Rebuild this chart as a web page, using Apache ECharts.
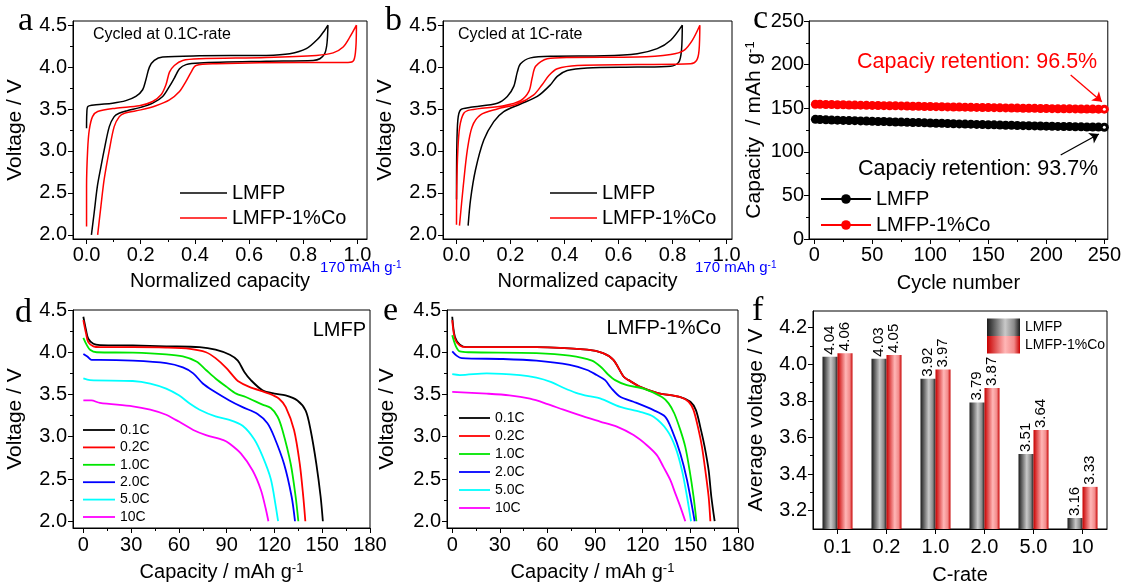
<!DOCTYPE html>
<html>
<head>
<meta charset="utf-8">
<title>LMFP / LMFP-1%Co</title>
<script src="https://cdn.jsdelivr.net/npm/echarts@6.0.0/dist/echarts.min.js"></script>
<style>
  html, body { margin: 0; padding: 0; background: #fff; }
  #main { width: 1124px; height: 587px; }
</style>
</head>
<body>
<div id="main"></div>
<script>
// ---------------- data ----------------
// a: 0.1C charge/discharge, normalized capacity vs voltage
var aLmfp = [[0,3.27],[0.001,3.45],[0.005,3.53],[0.035,3.55],[0.096,3.57],[0.145,3.6],[0.182,3.65],[0.207,3.73],[0.219,3.85],[0.232,4.0],[0.25,4.08],[0.281,4.12],[0.417,4.135],[0.663,4.14],[0.75,4.16],[0.811,4.22],[0.855,4.34],[0.879,4.44],[0.891,4.5],
  [0.889,4.35],[0.886,4.25],[0.879,4.16],[0.861,4.1],[0.836,4.08],[0.663,4.07],[0.417,4.05],[0.367,4.03],[0.343,3.98],[0.324,3.87],[0.306,3.77],[0.281,3.65],[0.244,3.57],[0.2,3.52],[0.15,3.48],[0.12,3.45],[0.102,3.41],[0.084,3.29],[0.065,3.01],[0.053,2.81],[0.04,2.58],[0.028,2.26],[0.018,2.0]];
var aCo = [[0,2.1],[0,2.58],[0.004,3.01],[0.01,3.25],[0.022,3.41],[0.041,3.47],[0.108,3.51],[0.195,3.54],[0.244,3.59],[0.275,3.67],[0.293,3.79],[0.306,3.94],[0.324,4.02],[0.355,4.08],[0.417,4.1],[0.663,4.115],[0.848,4.14],[0.91,4.17],[0.947,4.24],[0.972,4.36],[0.996,4.5],
  [0.994,4.24],[0.986,4.08],[0.965,4.055],[0.787,4.055],[0.478,4.04],[0.404,4.02],[0.386,3.94],[0.367,3.83],[0.343,3.71],[0.306,3.61],[0.256,3.54],[0.2,3.49],[0.14,3.45],[0.121,3.41],[0.102,3.29],[0.084,3.01],[0.065,2.66],[0.053,2.34],[0.041,2.0]];
// b: 1C
var bLmfp = [[0,2.42],[0.001,3.01],[0.005,3.37],[0.015,3.49],[0.052,3.52],[0.151,3.57],[0.188,3.65],[0.212,3.77],[0.225,3.94],[0.237,4.04],[0.274,4.11],[0.36,4.13],[0.546,4.135],[0.669,4.16],[0.743,4.22],[0.793,4.32],[0.836,4.5],
  [0.833,4.2],[0.823,4.06],[0.793,4.01],[0.669,4.0],[0.484,3.99],[0.41,3.96],[0.373,3.89],[0.348,3.79],[0.299,3.65],[0.237,3.56],[0.175,3.47],[0.138,3.35],[0.101,3.13],[0.07,2.77],[0.052,2.42],[0.043,2.11]];
var bCo = [[0,2.12],[0.001,2.58],[0.005,3.01],[0.012,3.29],[0.027,3.45],[0.052,3.49],[0.175,3.54],[0.237,3.6],[0.268,3.71],[0.28,3.87],[0.293,4.01],[0.336,4.1],[0.422,4.115],[0.669,4.12],[0.793,4.15],[0.842,4.2],[0.873,4.32],[0.901,4.5],
  [0.898,4.2],[0.889,4.08],[0.867,4.04],[0.669,4.03],[0.447,4.02],[0.373,3.98],[0.342,3.9],[0.317,3.79],[0.286,3.67],[0.225,3.56],[0.151,3.5],[0.089,3.43],[0.058,3.29],[0.04,3.01],[0.025,2.58],[0.011,2.11]];

// c: cycling at 1C (every 5th cycle)
var cycles = [1,5,10,15,20,25,30,35,40,45,50,55,60,65,70,75,80,85,90,95,100,105,110,115,120,125,130,135,140,145,150,155,160,165,170,175,180,185,190,195,200,205,210,215,220,225,230,235,240,245,250];
var cLmfp = [137.2,136.9,136.7,136.4,136.3,136.0,135.8,135.7,135.4,135.2,135.0,134.8,134.7,134.4,134.2,134.1,133.8,133.6,133.5,133.2,133.0,132.8,132.7,132.4,132.2,132.0,131.8,131.7,131.4,131.2,131.0,130.9,130.7,130.5,130.4,130.2,130.0,129.9,129.7,129.6,129.4,129.3,129.1,129.0,128.9,128.7,128.6,128.5,128.4,128.3,128.2];
var cCo = [154.5,154.4,154.2,154.1,154.0,153.9,153.7,153.6,153.5,153.3,153.2,153.1,152.9,152.8,152.7,152.6,152.4,152.3,152.2,152.0,151.9,151.8,151.7,151.5,151.4,151.3,151.2,151.0,150.9,150.8,150.7,150.6,150.4,150.3,150.2,150.1,150.0,149.9,149.8,149.7,149.6,149.5,149.4,149.3,149.3,149.2,149.1,149.0,149.0,148.9,148.9];
var arrowCo = [[221, 188], [247.9, 157.5]];
var arrowLmfp = [[212.4, 96.3], [245.3, 120.4]];

// d: LMFP discharge at rates
var rateNames = ['0.1C', '0.2C', '1.0C', '2.0C', '5.0C', '10C'];
var rateColors = ['#000000', '#ff0000', '#00e600', '#0000ff', '#00ffff', '#ff00ff'];
var d01 = [[0,4.42],[1.7,4.26],[3.1,4.16],[6.3,4.1],[10.4,4.085],[31,4.08],[52,4.07],[73,4.06],[83,4.03],[92,3.97],[97,3.9],[101,3.77],[105.2,3.67],[112.5,3.55],[120,3.51],[127,3.49],[134.4,3.43],[139.6,3.31],[142.7,3.08],[146.3,2.68],[149,2.29],[150.4,2.0]];
var d02 = [[0,4.38],[1.7,4.22],[3.1,4.12],[6.3,4.07],[10.4,4.06],[31,4.06],[52,4.055],[67,4.04],[77,4.0],[83,3.93],[90,3.81],[94,3.72],[97,3.66],[104.2,3.59],[116.7,3.51],[122.9,3.45],[127.1,3.35],[132.3,3.08],[135.9,2.68],[138.1,2.29],[139.4,2.0]];
var d10 = [[0,4.17],[2,4.09],[4.2,4.03],[8.3,4.0],[31,3.995],[52,3.975],[62.5,3.95],[71,3.89],[77,3.79],[83,3.69],[90,3.59],[96,3.51],[102,3.47],[112.5,3.38],[117.7,3.34],[121.9,3.24],[125,3.08],[130.2,2.68],[133.3,2.29],[135,2.0]];
var d20 = [[0,3.98],[2.5,3.95],[5.2,3.91],[10.4,3.91],[31,3.9],[52,3.87],[62.5,3.82],[69,3.75],[75,3.63],[81,3.55],[91.7,3.43],[100,3.35],[109.4,3.27],[115.6,3.16],[119.8,3.0],[126,2.68],[130.8,2.29],[132.9,2.0]];
var d50 = [[0,3.69],[4.2,3.67],[31,3.66],[42,3.63],[52,3.57],[60,3.49],[67,3.39],[73,3.32],[83,3.24],[91.7,3.2],[100,3.13],[107.3,2.97],[112.5,2.77],[117.7,2.5],[120.8,2.18],[122.3,2.0]];
var d100 = [[0,3.43],[5,3.43],[10.4,3.4],[31,3.36],[42,3.32],[52,3.26],[58,3.2],[60,3.18],[69,3.08],[77,3.02],[88,2.96],[91.7,2.92],[99,2.8],[106.3,2.6],[111.5,2.37],[114.5,2.15],[116.2,2.0]];
// e: LMFP-1%Co discharge at rates
var e01 = [[0,4.42],[1.7,4.18],[4.8,4.09],[9,4.06],[53,4.06],[85,4.03],[95,3.99],[101.5,3.91],[108,3.71],[111.1,3.67],[118.4,3.59],[129,3.52],[143.7,3.47],[150,3.414],[153.5,3.315],[156.7,3.078],[159,2.88],[161.5,2.604],[163.2,2.29],[165.3,2.0]];
var e02 = [[0,4.38],[1.7,4.16],[4.8,4.08],[9,4.06],[53,4.06],[85,4.03],[95,3.99],[101.5,3.91],[108,3.71],[111.1,3.67],[118.4,3.59],[129,3.52],[143.7,3.47],[148.9,3.414],[152,3.315],[155.2,3.078],[157.3,2.88],[159.4,2.604],[161.5,2.29],[162.6,2.0]];
var e10 = [[0,4.2],[2.3,4.07],[4.8,4.01],[11,4.0],[53,3.99],[74,3.96],[88,3.9],[94,3.82],[98,3.74],[102.6,3.67],[110,3.61],[120.5,3.57],[132.1,3.47],[136.3,3.395],[139.9,3.275],[143.7,3.078],[146.8,2.88],[149.5,2.604],[152,2.29],[153.8,2.0]];
var e20 = [[0,4.01],[2.7,3.96],[5.9,3.93],[32,3.92],[53,3.9],[74,3.85],[85,3.79],[91,3.73],[96.3,3.67],[100,3.58],[105.8,3.473],[114.2,3.414],[126.8,3.315],[134.2,3.236],[138.4,3.078],[143.7,2.8],[147.9,2.486],[152.7,2.0]];
var e50 = [[0,3.74],[4.8,3.73],[21.7,3.75],[42.7,3.73],[53,3.7],[62,3.65],[70,3.58],[78,3.52],[86,3.48],[93.1,3.454],[105.8,3.354],[118.4,3.295],[126.8,3.236],[135.3,3.078],[140.5,2.88],[144.7,2.604],[147.9,2.29],[150.4,2.0]];
var e100 = [[0,3.53],[21.7,3.51],[36,3.49],[49,3.45],[59.5,3.39],[70,3.32],[82.6,3.24],[93.1,3.18],[103.7,3.12],[114.2,3.02],[122.6,2.9],[129,2.78],[133.1,2.64],[137.4,2.486],[140.5,2.33],[143.7,2.17],[146.8,2.0]];

// f: average voltage vs C-rate
var rates = ['0.1', '0.2', '1.0', '2.0', '5.0', '10'];
var fLmfp = [4.04, 4.03, 3.92, 3.79, 3.51, 3.16];
var fCo = [4.06, 4.05, 3.97, 3.87, 3.64, 3.33];

// tick values
var normTicks = [0, 0.2, 0.4, 0.6, 0.8, 1.0];
var normMinor = [0.1, 0.3, 0.5, 0.7, 0.9];
var voltTicks = [2.0, 2.5, 3.0, 3.5, 4.0, 4.5];
var voltMinor = [2.25, 2.75, 3.25, 3.75, 4.25];
var cycTicks = [0, 50, 100, 150, 200, 250];
var cycMinor = [25, 75, 125, 175, 225];
var capTicks = [0, 30, 60, 90, 120, 150, 180];
var capMinor = [15, 45, 75, 105, 135, 165];
var avgTicks = [3.2, 3.4, 3.6, 3.8, 4.0, 4.2];
var avgMinor = [3.3, 3.5, 3.7, 3.9, 4.1];

// ---------------- chart ----------------
var FONT = 'Liberation Sans';
var SERIF = 'Liberation Serif';
var xAxes = [], yAxes = [];

var fix1 = function (v) { return v.toFixed(1); };
var fix0 = function (v) { return String(Math.round(v)); };
var supRich = {
    s: {fontSize: 13, fontFamily: FONT, color: '#000', verticalAlign: 'top', lineHeight: 12}
};

// main axis with labels + a twin that only draws the minor ticks
var addAxis = function (list, grid, dim, min, max, major, minor, fmt, margin, name, nameGap, nameSize) {
    var pos = dim === 'x' ? 'bottom' : 'left';
    var main = {
        type: 'value', gridIndex: grid, position: pos, offset: 0, min: min, max: max,
        axisLine: {show: true, onZero: false, lineStyle: {color: '#000', width: 1}},
        axisTick: {show: true, customValues: major, length: 5, lineStyle: {color: '#000', width: 1}},
        axisLabel: {customValues: major, formatter: fmt, margin: margin, color: '#000', fontSize: 20, fontFamily: FONT},
        splitLine: {show: false}
    };
    if (name) {
        main.name = name;
        main.nameLocation = 'middle';
        main.nameGap = nameGap;
        main.nameTextStyle = {fontSize: nameSize || 20, color: '#000', fontFamily: FONT, rich: supRich};
    }
    list.push(main);
    var idx = list.length - 1;
    list.push({
        type: 'value', gridIndex: grid, position: pos, offset: 0, min: min, max: max,
        axisLine: {show: false, onZero: false},
        axisTick: {show: true, customValues: minor, length: 3, lineStyle: {color: '#000', width: 1}},
        axisLabel: {show: false},
        splitLine: {show: false}
    });
    return idx;
};

var grids = [
    {left: 73, top: 21, width: 294, height: 218},
    {left: 443, top: 21, width: 289, height: 218},
    {left: 809, top: 21, width: 300, height: 218},
    {left: 73, top: 310, width: 297, height: 218},
    {left: 447, top: 310, width: 291, height: 218},
    {left: 813, top: 311, width: 294, height: 218}
];
grids.forEach(function (g) {
    g.show = true;
    g.borderColor = '#000';
    g.borderWidth = 1;
    g.backgroundColor = 'transparent';
});

var ax = addAxis(xAxes, 0, 'x', -0.05, 1.035, normTicks, normMinor, fix1, 6, 'Normalized capacity', 32);
var ay = addAxis(yAxes, 0, 'y', 1.95, 4.55, voltTicks, voltMinor, fix1, 6, 'Voltage / V', 47, 21);
var bx = addAxis(xAxes, 1, 'x', -0.05, 1.02, normTicks, normMinor, fix1, 6, 'Normalized capacity', 32);
var by = addAxis(yAxes, 1, 'y', 1.95, 4.55, voltTicks, voltMinor, fix1, 6, 'Voltage / V', 47, 21);
var cx = addAxis(xAxes, 2, 'x', -4.5, 253, cycTicks, cycMinor, fix0, 6, 'Cycle number', 34);
var cy = addAxis(yAxes, 2, 'y', 0, 250, cycTicks, cycMinor, fix0, 5, 'Capacity  / mAh g{s|-1}', 44, 21);
var dx = addAxis(xAxes, 3, 'x', -6.5, 180, capTicks, capMinor, fix0, 7, 'Capacity / mAh g{s|-1}', 34);
var dy = addAxis(yAxes, 3, 'y', 1.92, 4.5, voltTicks, voltMinor, fix1, 6, 'Voltage / V', 47, 21);
var ex = addAxis(xAxes, 4, 'x', -3.3, 180, capTicks, capMinor, fix0, 7, 'Capacity / mAh g{s|-1}', 34);
var ey = addAxis(yAxes, 4, 'y', 1.92, 4.5, voltTicks, voltMinor, fix1, 6, 'Voltage / V', 49, 21);
var fy = addAxis(yAxes, 5, 'y', 3.1, 4.29, avgTicks, avgMinor, fix1, 6, 'Average voltage / V', 46, 21);
xAxes.push({
    type: 'category', gridIndex: 5, position: 'bottom', data: rates,
    axisLine: {show: true, lineStyle: {color: '#000', width: 1}},
    axisTick: {show: true, alignWithLabel: true, length: 5, lineStyle: {color: '#000'}},
    axisLabel: {margin: 8, color: '#000', fontSize: 20, fontFamily: FONT},
    name: 'C-rate', nameLocation: 'middle', nameGap: 36,
    nameTextStyle: {fontSize: 20, color: '#000', fontFamily: FONT}
});
var fx = xAxes.length - 1;

var curve = function (name, xi, yi, data, color, width) {
    return {
        type: 'line', name: name, xAxisIndex: xi, yAxisIndex: yi, data: data,
        symbol: 'none', smooth: 0.3, animation: false,
        lineStyle: {color: color, width: width}, itemStyle: {color: color}
    };
};

var series = [
    curve('a:LMFP', ax, ay, aLmfp, '#000', 1.5),
    curve('a:LMFP-1%Co', ax, ay, aCo, '#ff0000', 1.5),
    curve('b:LMFP', bx, by, bLmfp, '#000', 1.5),
    curve('b:LMFP-1%Co', bx, by, bCo, '#ff0000', 1.5)
];

var arrowLine = function (pts, color) {
    return {
        silent: true, animation: false, symbol: ['none', 'arrow'], symbolSize: 9,
        label: {show: false},
        lineStyle: {color: color, width: 1.3, type: 'solid'},
        data: [[{coord: pts[0]}, {coord: pts[1]}]]
    };
};
var cycleSeries = function (name, values, color, arrow) {
    var pts = cycles.map(function (c, i) { return [c, values[i]]; });
    var last = pts[pts.length - 1];
    return {
        type: 'line', name: name, xAxisIndex: cx, yAxisIndex: cy, data: pts,
        symbol: 'circle', symbolSize: 9, showSymbol: true, animation: false,
        lineStyle: {color: color, width: 1}, itemStyle: {color: color},
        markLine: arrowLine(arrow, color),
        markPoint: {
            silent: true, animation: false, symbol: 'circle', symbolSize: 3,
            itemStyle: {color: '#fff'}, label: {show: false},
            data: [{coord: last}]
        }
    };
};
series.push(cycleSeries('c:LMFP', cLmfp, '#000', arrowLmfp));
series.push(cycleSeries('c:LMFP-1%Co', cCo, '#ff0000', arrowCo));

var dSets = [d01, d02, d10, d20, d50, d100];
var eSets = [e01, e02, e10, e20, e50, e100];
dSets.forEach(function (d, i) {
    series.push(curve('d:' + rateNames[i], dx, dy, d, rateColors[i], 1.8));
});
eSets.forEach(function (d, i) {
    series.push(curve('e:' + rateNames[i], ex, ey, d, rateColors[i], 1.8));
});

var barGrad = function (edgeL, mid, mid2, edgeR) {
    return new echarts.graphic.LinearGradient(0, 0, 1, 0, [
        {offset: 0, color: edgeL}, {offset: 0.55, color: mid}, {offset: 0.82, color: mid2}, {offset: 1, color: edgeR}
    ]);
};
var barLabel = {
    show: true, position: 'top', rotate: 90, align: 'left', verticalAlign: 'middle', distance: 2,
    fontSize: 15, color: '#000', fontFamily: FONT,
    formatter: function (p) { return p.value.toFixed(2); }
};
series.push({
    type: 'bar', name: 'f:LMFP', xAxisIndex: fx, yAxisIndex: fy, data: fLmfp,
    barWidth: 15, barGap: '0%', animation: false, clip: true,
    itemStyle: {color: barGrad('#1c1c1c', '#c9c9c9', '#8a8a8a', '#1c1c1c')},
    label: barLabel
});
series.push({
    type: 'bar', name: 'f:LMFP-1%Co', xAxisIndex: fx, yAxisIndex: fy, data: fCo,
    barWidth: 15, barGap: '0%', animation: false, clip: true,
    itemStyle: {color: barGrad('#c80000', '#ffb6b6', '#f28a8a', '#c80000')},
    label: barLabel
});

var legendName = function (n) { return n.split(':')[1]; };
var legendBase = function (left, top, names, size, lineH, iw, ih, gap, icon) {
    var lg = {
        orient: 'vertical', left: left, top: top, data: names, formatter: legendName,
        itemWidth: iw, itemHeight: ih, itemGap: gap, padding: 0, selectedMode: false,
        textStyle: {fontSize: size, lineHeight: lineH, color: '#000', fontFamily: FONT}
    };
    if (icon) { lg.icon = icon; }
    return lg;
};
// plain curves: a thin rect stands in for the line sample
var legends = [
    legendBase(180, 183, ['a:LMFP', 'a:LMFP-1%Co'], 20, 20, 47, 1.6, 5, 'rect'),
    legendBase(550, 183, ['b:LMFP', 'b:LMFP-1%Co'], 20, 20, 47, 1.6, 5, 'rect'),
    legendBase(820, 189, ['c:LMFP', 'c:LMFP-1%Co'], 20, 20, 50, 12, 6),
    legendBase(83, 423, rateNames.map(function (r) { return 'd:' + r; }), 14, 14, 32, 1.8, 3.4, 'rect'),
    legendBase(459, 411, rateNames.map(function (r) { return 'e:' + r; }), 14, 14, 31, 1.8, 4, 'rect'),
    legendBase(987, 318.5, ['f:LMFP', 'f:LMFP-1%Co'], 14, 17.5, 33, 17.5, 0, 'rect')
];

var txt = function (x, y, text, size, color, family, align, extra) {
    var st = {
        text: text, fontSize: size, fontFamily: family || FONT, fill: color || '#000',
        align: align || 'left', verticalAlign: 'middle',
        textAlign: align || 'left', textVerticalAlign: 'middle'
    };
    if (extra) { st.rich = extra; }
    return {type: 'text', x: x, y: y, z: 100, silent: true, style: st};
};
var blueSup = {s: {fontSize: 10, fontFamily: FONT, fill: '#0000ff', color: '#0000ff', verticalAlign: 'top', lineHeight: 10}};

var graphics = [
    txt(18, 21, 'a', 34, '#000', SERIF),
    txt(385, 21, 'b', 34, '#000', SERIF),
    txt(753, 19, 'c', 34, '#000', SERIF),
    txt(15, 313, 'd', 34, '#000', SERIF),
    txt(383, 311, 'e', 34, '#000', SERIF),
    txt(752, 311, 'f', 34, '#000', SERIF),
    txt(93, 35, 'Cycled at 0.1C-rate', 16),
    txt(458, 35, 'Cycled at 1C-rate', 16),
    txt(320, 268, '170 mAh g{s|-1}', 15, '#0000ff', FONT, 'left', blueSup),
    txt(695, 268, '170 mAh g{s|-1}', 15, '#0000ff', FONT, 'left', blueSup),
    txt(857, 62, 'Capaciy retention: 96.5%', 21.5, '#ff0000'),
    txt(858, 169, 'Capaciy retention: 93.7%', 21.5, '#000'),
    txt(366, 330, 'LMFP', 20, '#000', FONT, 'right'),
    txt(721, 328, 'LMFP-1%Co', 20, '#000', FONT, 'right')
];

var chart = echarts.init(document.getElementById('main'), null, {renderer: 'canvas'});
chart.setOption({
    backgroundColor: '#fff',
    animation: false,
    grid: grids,
    xAxis: xAxes,
    yAxis: yAxes,
    legend: legends,
    series: series,
    graphic: graphics
});
</script>
</body>
</html>
